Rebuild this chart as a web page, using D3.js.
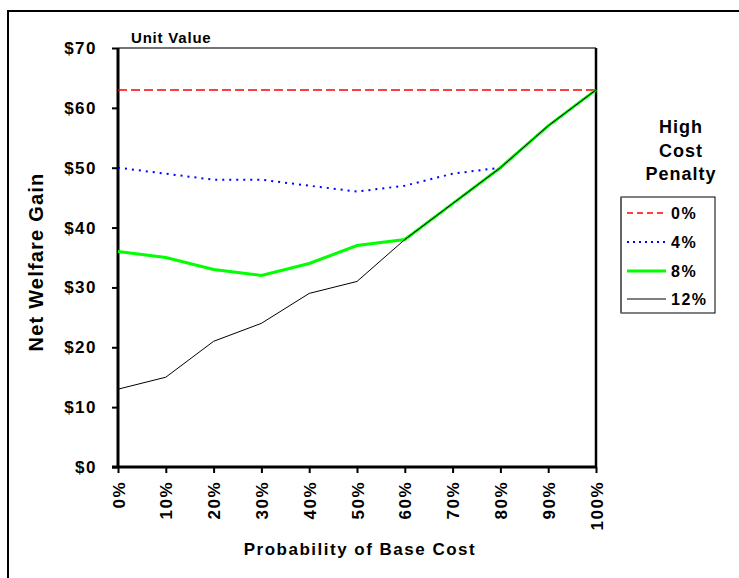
<!DOCTYPE html>
<html>
<head>
<meta charset="utf-8">
<script src="https://cdn.jsdelivr.net/npm/d3@7"></script>
<style>
  body { margin: 0; background: #fff; }
  svg { display: block; font-family: "Liberation Sans", Arial, sans-serif; }
</style>
</head>
<body>
<svg id="chart" width="739" height="578"></svg>
<script>
// Probability of base cost (x categories)
const probs = [0, 0.1, 0.2, 0.3, 0.4, 0.5, 0.6, 0.7, 0.8, 0.9, 1.0];
// Net welfare gain by high-cost penalty
const pen0  = [63, 63, 63, 63, 63, 63, 63, 63, 63, 63, 63];
const pen4  = [50, 49, 48, 48, 47, 46, 47, 49, 50, 57, 63];
const pen8  = [36, 35, 33, 32, 34, 37, 38, 44, 50, 57, 63];
const pen12 = [13, 15, 21, 24, 29, 31, 38, 44, 50, 57, 63];
const seriesNames = ["0%", "4%", "8%", "12%"];
const yTicks = [0, 10, 20, 30, 40, 50, 60, 70];

const svg = d3.select("#chart");
const FONT = "Liberation Sans, Arial, sans-serif";

// outer frame
svg.append("rect").attr("x", 8).attr("y", 11).attr("width", 780).attr("height", 620)
  .attr("fill", "none").attr("stroke", "#000").attr("stroke-width", 2);

const pLeft = 118, pRight = 596, pTop = 48, pBottom = 467;
const x = d3.scaleLinear().domain([0, 1]).range([pLeft, pRight]);
const y = d3.scaleLinear().domain([0, 70]).range([pBottom, pTop]);

// plot frame: thin top edge, heavy right edge
svg.append("line").attr("x1", pLeft).attr("x2", pRight).attr("y1", pTop).attr("y2", pTop)
  .attr("stroke", "#444").attr("stroke-width", 1.5);
svg.append("line").attr("x1", pRight).attr("x2", pRight).attr("y1", pTop).attr("y2", pBottom)
  .attr("stroke", "#000").attr("stroke-width", 2.5);

// axes
const yAxis = d3.axisLeft(y).tickValues(yTicks).tickSize(6).tickPadding(15)
  .tickFormat(d => "$" + d);
const gy = svg.append("g").attr("transform", `translate(${pLeft},0)`).call(yAxis);
gy.select(".domain").attr("stroke-width", 3).attr("d", `M0,${pTop}V${pBottom}`);
gy.selectAll(".tick line").attr("stroke-width", 2);
gy.selectAll("text").attr("font-size", 17).attr("font-weight", "bold")
  .attr("letter-spacing", 1.5).attr("font-family", FONT).attr("fill", "#000");

const xAxis = d3.axisBottom(x).tickValues(probs).tickSize(6).tickSizeOuter(0)
  .tickFormat(d3.format(".0%"));
const gx = svg.append("g").attr("transform", `translate(0,${pBottom})`).call(xAxis);
gx.select(".domain").attr("stroke-width", 3).attr("d", `M${pLeft - 6},0H${pRight}`);
gx.selectAll(".tick line").attr("stroke-width", 2);
gx.selectAll("text")
  .attr("font-size", 17).attr("font-weight", "bold").attr("letter-spacing", 1.5)
  .attr("font-family", FONT).attr("fill", "#000")
  .attr("transform", "rotate(-90)")
  .attr("text-anchor", "end")
  .attr("x", -14).attr("y", 0).attr("dy", "0.36em");

// series lines
const line = d3.line().x((d, i) => x(probs[i])).y(d => y(d));
const styles = [
  { data: pen0,  stroke: "#ff0000", width: 1.5, dash: "9,4" },
  { data: pen4,  stroke: "#0000ff", width: 2,   dash: "2,5" },
  { data: pen8,  stroke: "#00ff00", width: 3,   dash: null },
  { data: pen12, stroke: "#000000", width: 1,   dash: null }
];
styles.forEach(s => {
  svg.append("path").datum(s.data).attr("d", line)
    .attr("fill", "none").attr("stroke", s.stroke).attr("stroke-width", s.width)
    .attr("stroke-dasharray", s.dash);
});

// titles
svg.append("text").attr("x", 131).attr("y", 43).attr("font-size", 15).attr("font-weight", "bold")
  .attr("letter-spacing", 0.8).text("Unit Value");
svg.append("text").attr("x", 360).attr("y", 555).attr("text-anchor", "middle")
  .attr("font-size", 17).attr("font-weight", "bold").attr("letter-spacing", 1.5)
  .text("Probability of Base Cost");
svg.append("text").attr("transform", "translate(43,262) rotate(-90)").attr("text-anchor", "middle")
  .attr("font-size", 20).attr("font-weight", "bold").attr("letter-spacing", 1.2)
  .text("Net Welfare Gain");

// legend
["High", "Cost", "Penalty"].forEach((t, i) => {
  svg.append("text").attr("x", 681).attr("y", [133, 157, 180][i]).attr("text-anchor", "middle")
    .attr("font-size", 18).attr("font-weight", "bold").attr("letter-spacing", 1).text(t);
});
svg.append("rect").attr("x", 621).attr("y", 197).attr("width", 94).attr("height", 116)
  .attr("fill", "#fff").attr("stroke", "#000").attr("stroke-width", 1);
svg.append("line").attr("x1", 621).attr("x2", 621).attr("y1", 197).attr("y2", 313)
  .attr("stroke", "#666").attr("stroke-width", 2);
styles.forEach((s, i) => {
  const yy = [213, 242, 271, 299][i];
  svg.append("line").attr("x1", 627).attr("x2", 666).attr("y1", yy).attr("y2", yy)
    .attr("stroke", s.stroke).attr("stroke-width", s.width)
    .attr("stroke-dasharray", s.dash === "2,5" ? "2,4" : s.dash === "9,4" ? "6,4" : null);
  svg.append("text").attr("x", 671).attr("y", yy).attr("dy", "0.38em")
    .attr("font-size", 16).attr("font-weight", "bold").attr("letter-spacing", 1.5)
    .text(seriesNames[i]);
});
</script>
</body>
</html>
